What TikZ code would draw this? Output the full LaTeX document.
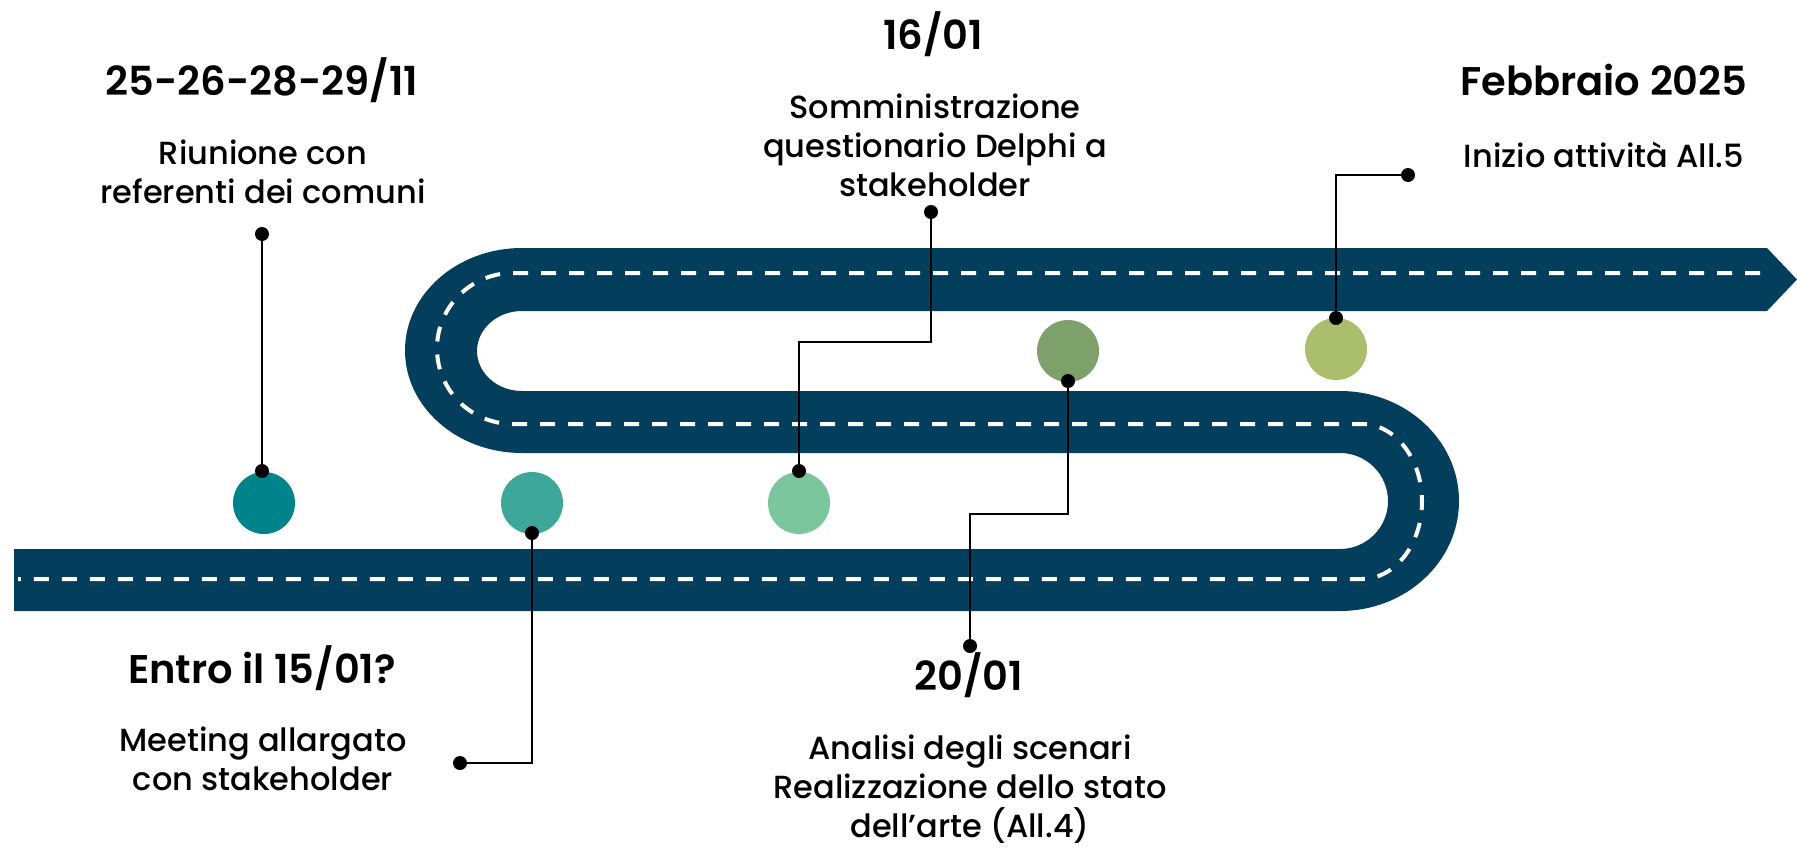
\documentclass[tikz,border=0pt]{standalone}
\usepackage{fontspec}
\IfFontExistsTF{Poppins Medium}{\setmainfont{Poppins Medium}}{\setmainfont{Poppins}}
\IfFontExistsTF{Poppins SemiBold}{\newfontfamily\titlefont{Poppins SemiBold}}{\newfontfamily\titlefont{Poppins}[UprightFont=*-Bold]}
\definecolor{strada}{RGB}{3,62,93}
\definecolor{tappa1}{HTML}{00838B}
\definecolor{tappa2}{HTML}{3DA799}
\definecolor{tappa3}{HTML}{7BC69D}
\definecolor{tappa4}{HTML}{7EA06A}
\definecolor{tappa5}{HTML}{AABE6B}
\tikzset{
  tappa/.style={circle, inner sep=0pt, minimum size=62pt},
  punto/.style={circle, fill=black, inner sep=0pt, minimum size=14pt},
  filo/.style={black, line width=2pt},
  data/.style={font=\titlefont\fontsize{40}{48}\selectfont, anchor=base, inner sep=0pt},
  testo/.style={font=\fontsize{32}{39}\selectfont, align=center, anchor=north, inner sep=0pt}
}
\begin{document}
\begin{tikzpicture}[x=1pt, y=-1pt]
        \useasboundingbox (0,0) rectangle (1797,854);

        %strada
        \fill[strada] (14,549) -- (1340,549)
            arc[start angle=90, end angle=-90, x radius=48, y radius=48]
            -- (522,453)
            arc[start angle=90, end angle=270, x radius=117, y radius=102.5]
            -- (1767,248) -- (1797,279.5) -- (1767,311) -- (522,311)
            arc[start angle=270, end angle=90, x radius=45, y radius=40]
            -- (1340,391)
            arc[start angle=-90, end angle=90, x radius=119, y radius=110]
            -- (14,611) -- cycle;
        \draw[white, line width=4pt, dash pattern=on 15pt off 13pt] (1760,273) -- (513,273)
            arc[start angle=270, end angle=90, x radius=76, y radius=75.5]
            -- (1362,424)
            arc[start angle=-90, end angle=90, x radius=60, y radius=77.5]
            -- (18,579);

        %tappe
        \node[tappa, fill=tappa1] (c1) at (264,503) {};
        \node[tappa, fill=tappa2] (c2) at (532,503) {};
        \node[tappa, fill=tappa3] (c3) at (799,503) {};
        \node[tappa, fill=tappa4] (c4) at (1068,351) {};
        \node[tappa, fill=tappa5] (c5) at (1336,349) {};

        %collegamenti
        \node[punto] (d1a) at (262,234) {};
        \node[punto] (d1b) at (262,471) {};
        \node[punto] (d2a) at (532,533) {};
        \node[punto] (d2b) at (460,763) {};
        \node[punto] (d3a) at (931,212) {};
        \node[punto] (d3b) at (799,471) {};
        \node[punto] (d4a) at (1068,381) {};
        \node[punto] (d4b) at (970,646) {};
        \node[punto] (d5a) at (1336,318) {};
        \node[punto] (d5b) at (1408,175) {};
        \draw[filo] (d1a) -- (d1b);
        \draw[filo] (d2a) |- (d2b);
        \draw[filo] (d3a) -- ++(0,130) -| (d3b);
        \draw[filo] (d4a) -- ++(0,133) -| (d4b);
        \draw[filo] (d5a) |- (d5b);

        %date e attivita
        \node[data] (t1) at (262,95) {25-26-28-29/11};
        \node[testo] (a1) at (263,140) {Riunione con\\referenti dei comuni};
        \node[data] (t2) at (262,683) {Entro il 15/01?};
        \node[testo] (a2) at (263,727) {Meeting allargato\\con stakeholder};
        \node[data] (t3) at (933,49) {16/01};
        \node[testo] (a3) at (935,94) {Somministrazione\\questionario Delphi a\\stakeholder};
        \node[data] (t4) at (969,690) {20/01};
        \node[testo] (a4) at (970,735) {Analisi degli scenari\\Realizzazione dello stato\\dell’arte (All.4)};
        \node[data] (t5) at (1604,95) {Febbraio 2025};
        \node[testo] (a5) at (1604,142) {Inizio attività All.5};

\end{tikzpicture}
\end{document}
